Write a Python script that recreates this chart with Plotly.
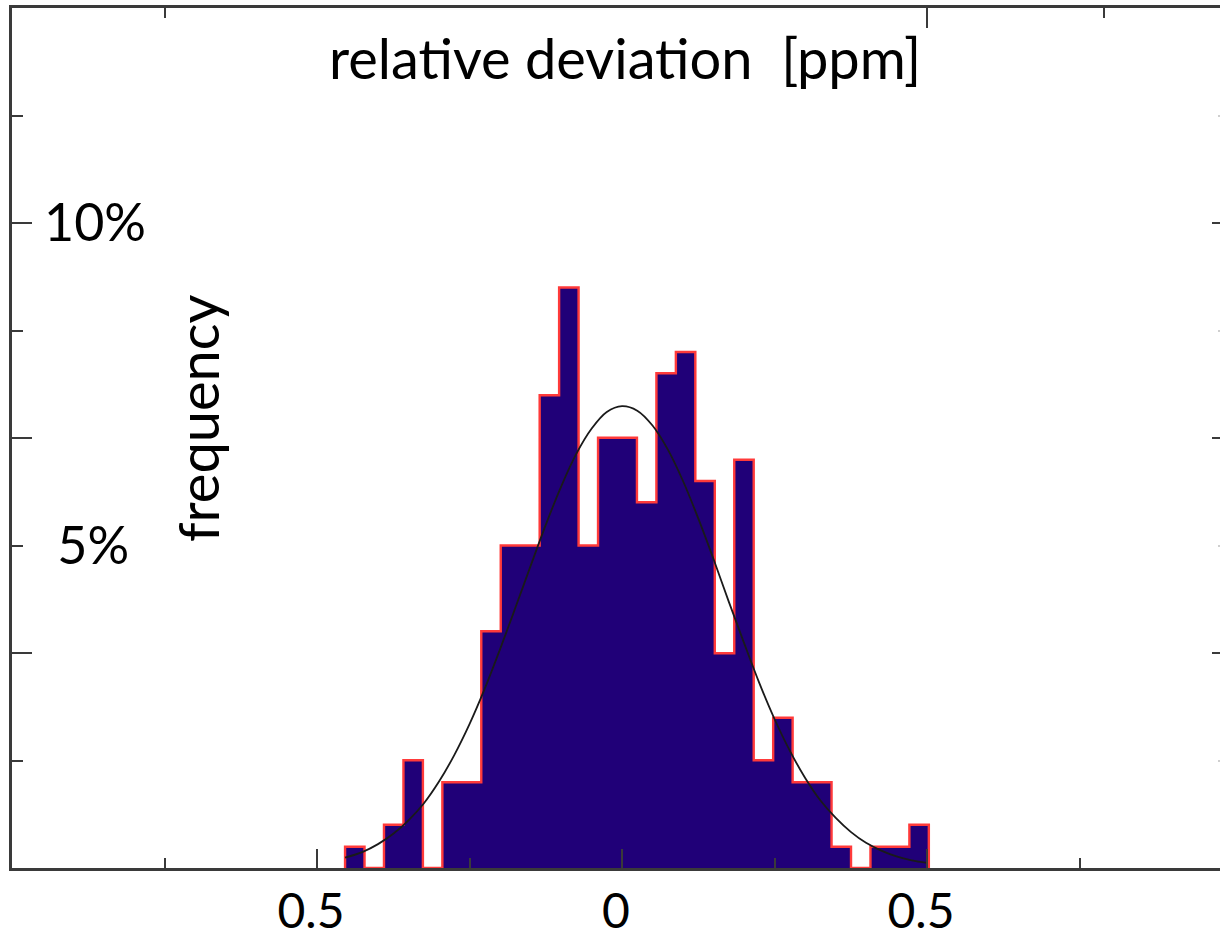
import plotly.graph_objects as go

# ---- data ----
bin_left = -0.454      # left edge of first histogram bin [ppm]
bin_width = 0.0319     # bin width [ppm]
freq_pct = [0.33, 0, 0.67, 1.67, 0, 1.33, 1.33, 3.67, 5.0, 5.0,
            7.33, 9.0, 5.0, 6.67, 6.67, 5.67, 7.67, 8.0, 6.0, 3.33,
            6.33, 1.67, 2.33, 1.33, 1.33, 0.33, 0, 0.33, 0.33, 0.67]

curve_x = [-0.454, -0.425, -0.40, -0.375, -0.35, -0.325, -0.30, -0.275, -0.25, -0.225,
           -0.20, -0.175, -0.15, -0.125, -0.10, -0.075, -0.05, -0.025, 0.0, 0.025,
           0.05, 0.075, 0.10, 0.125, 0.15, 0.175, 0.20, 0.225, 0.25, 0.275,
           0.30, 0.325, 0.35, 0.375, 0.40, 0.425, 0.45, 0.475, 0.50]
curve_y = [0.16, 0.25, 0.37, 0.53, 0.74, 1.00, 1.34, 1.75, 2.23, 2.78,
           3.39, 4.03, 4.68, 5.32, 5.91, 6.42, 6.81, 7.07, 7.16, 7.09,
           6.86, 6.49, 6.00, 5.42, 4.79, 4.13, 3.49, 2.87, 2.31, 1.82,
           1.40, 1.05, 0.78, 0.56, 0.39, 0.27, 0.18, 0.12, 0.08]

x_major = [-0.5, 0, 0.5]
x_labels = ["0.5", "0", "0.5"]
x_minor = [-0.75, -0.25, 0.25, 0.75]
top_major = [0.5]
top_minor = [-0.75, 0.79]
y_major = [10 / 3, 20 / 3, 10]
y_minor = [5 / 3, 5, 25 / 3, 35 / 3]
y_label_vals = [5, 10]
y_labels = ["&nbsp;5%", "10%"]

title_text = "relative deviation&nbsp; [ppm]"
ylabel_text = "frequency"

# ---- derived geometry ----
n = len(freq_pct)
edges = [bin_left + i * bin_width for i in range(n + 1)]
centers = [bin_left + (i + 0.5) * bin_width for i in range(n)]
outline_x = [edges[0]] + edges
outline_y = [0] + freq_pct + [0]

X_RANGE = [-1.0, 0.9803]
Y_RANGE = [0, 13.3333]
AX = "#3a3a3a"
FONT = "Lato, 'Open Sans', sans-serif"
NAVY = "#200078"
RED = "#ff3a3a"
CLEAR = "rgba(0,0,0,0)"

fig = go.Figure()
fig.add_trace(go.Bar(x=centers, y=freq_pct, width=bin_width,
                     marker=dict(color=NAVY, line=dict(width=0)),
                     hoverinfo="skip", showlegend=False))
fig.add_trace(go.Scatter(x=outline_x, y=outline_y, mode="lines",
                         line=dict(color=RED, width=2.4, shape="hv"),
                         hoverinfo="skip", showlegend=False))
fig.add_trace(go.Scatter(x=curve_x, y=curve_y, mode="lines",
                         line=dict(color="#1a1a1a", width=1.8, shape="spline"),
                         hoverinfo="skip", showlegend=False))
# invisible anchor traces so the overlay axes (frame ticks / labels) get drawn
for xa, ya in (("x2", "y"), ("x", "y2"), ("x", "y3")):
    fig.add_trace(go.Scatter(x=[0], y=[0], xaxis=xa, yaxis=ya, mode="markers",
                             marker=dict(opacity=0, size=1),
                             hoverinfo="skip", showlegend=False))

fig.update_layout(
    width=1220, height=940,
    margin=dict(l=12, r=0, t=8, b=72, autoexpand=False),
    paper_bgcolor="white", plot_bgcolor="white",
    font=dict(family=FONT, color="black", size=48),
    bargap=0, showlegend=False,
    xaxis=dict(range=X_RANGE, showgrid=False, zeroline=False, automargin=False,
               showline=True, linecolor=AX, linewidth=2.5,
               ticks="inside", tickvals=x_major, ticktext=x_labels,
               ticklen=19, tickwidth=2, tickcolor=AX,
               tickfont=dict(size=48, family=FONT, color="black"),
               ticklabelshift=-6, ticklabelstandoff=0,
               minor=dict(tickvals=x_minor, ticks="inside", ticklen=10,
                          tickwidth=2, tickcolor=AX, showgrid=False)),
    xaxis2=dict(range=X_RANGE, overlaying="x", side="top", anchor="y",
                showgrid=False, zeroline=False, automargin=False,
                showline=True, linecolor=AX, linewidth=2.5,
                ticks="inside", tickvals=top_major, ticklen=20, tickwidth=2,
                tickcolor=AX, showticklabels=False,
                minor=dict(tickvals=top_minor, ticks="inside", ticklen=10,
                           tickwidth=2, tickcolor=AX, showgrid=False)),
    yaxis=dict(range=Y_RANGE, showgrid=False, zeroline=False, automargin=False,
               showline=True, linecolor=AX, linewidth=2.5,
               ticks="inside", tickvals=y_major, ticklen=20, tickwidth=2,
               tickcolor=AX, showticklabels=False,
               minor=dict(tickvals=y_minor, ticks="inside", ticklen=11,
                          tickwidth=2, tickcolor=AX, showgrid=False)),
    yaxis2=dict(range=Y_RANGE, overlaying="y", side="left", anchor="x",
                showgrid=False, zeroline=False, showline=False, automargin=False,
                linecolor=CLEAR,
                ticks="", tickvals=y_label_vals, ticktext=y_labels,
                ticklabelposition="inside", ticklabelstandoff=29,
                tickfont=dict(size=52, family=FONT, color="black")),
    yaxis3=dict(range=Y_RANGE, overlaying="y", side="right", anchor="x",
                showgrid=False, zeroline=False, showline=False, automargin=False,
                linecolor=CLEAR, linewidth=0,
                ticks="inside", tickvals=y_major, ticklen=8, tickwidth=2,
                tickcolor=AX, showticklabels=False,
                minor=dict(tickvals=y_minor, ticks="inside", ticklen=2,
                           tickwidth=2, tickcolor="#cfcfcf", showgrid=False)),
)

fig.add_annotation(text=title_text, xref="paper", yref="paper",
                   x=0.5075, y=0.942, xanchor="center", yanchor="middle",
                   showarrow=False, font=dict(size=56, family=FONT, color="black"))
fig.add_annotation(text=ylabel_text, xref="paper", yref="paper",
                   x=0.153, y=0.523, xanchor="center", yanchor="middle",
                   textangle=-90, showarrow=False,
                   font=dict(size=56, family=FONT, color="black"))

fig.write_html("out.html", config={"displayModeBar": False},
               post_script="document.body.style.margin='0';"
                           "document.body.style.overflow='hidden';")
